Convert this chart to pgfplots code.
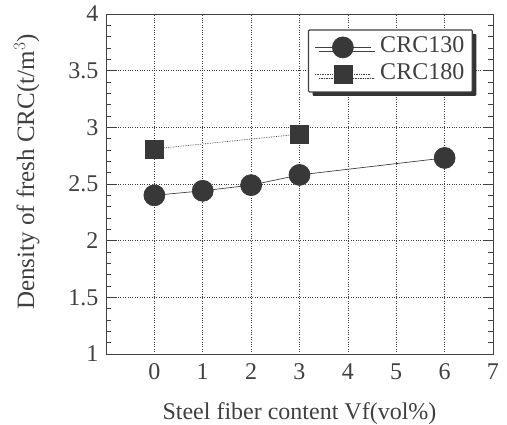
\documentclass[border=0pt]{standalone}
\usepackage{pgfplots}
\pgfplotsset{compat=1.18}
\usepackage{fontspec}
\setmainfont{Liberation Serif}
\usetikzlibrary{shadows}
\definecolor{ink}{gray}{0.25}
\definecolor{mk}{gray}{0.22}
\begin{document}
\begin{tikzpicture}
\path[use as bounding box] (-106pt,-70pt) rectangle (401pt,354pt);
\begin{axis}[
  at={(0,0)}, anchor=south west,
  scale only axis, width=387pt, height=340pt,
  xmin=-1, xmax=7, ymin=1, ymax=4,
  xtick={0,1,2,3,4,5,6,7},
  ytick={1,1.5,2,2.5,3,3.5,4},
  yticklabels={1,1.5,2,2.5,3,3.5,4},
  minor y tick num=4,
  xtick style={draw=none},
  ytick align=inside,
  major tick length=10pt, minor tick length=5pt,
  tick style={ink, line width=0.6pt},
  axis line style={ink, line width=0.8pt},
  grid=major,
  major grid style={ink, dotted, line width=0.6pt},
  /pgf/number format/assume math mode=true,
  tick label style={font=\fontsize{24}{28}\selectfont, text=ink},
  xticklabel style={yshift=-6pt},
  yticklabel style={xshift=-4pt},
  xlabel={Steel fiber content Vf(vol\%)},
  ylabel={Density of fresh CRC(t/m$^{3}$)},
  xlabel style={font=\fontsize{24}{28}\selectfont, text=ink, at={(axis description cs:0.5,-0.174)}, anchor=center},
  ylabel style={font=\fontsize{25}{28}\selectfont, text=ink, at={(axis description cs:-0.205,0.535)}, anchor=center},
  legend style={at={(axis description cs:0.948,0.955)}, anchor=north east,
    font=\fontsize{24}{28}\selectfont, text=ink,
    draw=ink, line width=1.2pt, rounded corners=1pt, fill=white,
    drop shadow={shadow xshift=4pt, shadow yshift=-4pt, fill=black!80, opacity=1},
    inner xsep=6pt, inner ysep=4pt, row sep=0pt, column sep=7pt,
    nodes={text height=17pt, text depth=6pt, inner ysep=2pt}},
  legend cell align=left,
  legend image code/.code={\draw[line width=0.7pt, mark repeat=2,mark phase=2] plot coordinates {(0pt,0pt)(28pt,0pt)(56pt,0pt)};},
]
\addplot[ink, line width=0.7pt, mark=*, mark size=10.5pt, mark options={solid, fill=mk, draw=mk}]
  coordinates {(0,2.40) (1,2.44) (2,2.49) (3,2.58) (6,2.73)};
\addlegendentry{CRC130}
\addplot[ink, line width=0.7pt, densely dotted, mark=square*, mark size=9pt, mark options={solid, fill=mk, draw=mk}]
  coordinates {(0,2.81) (3,2.94)};
\addlegendentry{CRC180}
\end{axis}
\end{tikzpicture}
\end{document}
